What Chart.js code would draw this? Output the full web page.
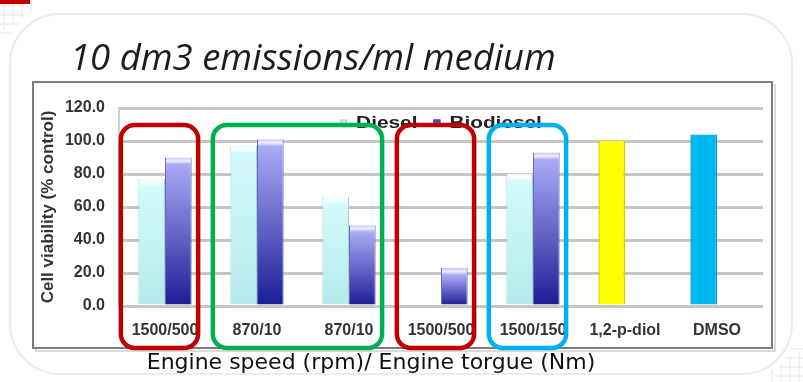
<!DOCTYPE html>
<html>
<head>
<meta charset="utf-8">
<script src="https://cdn.jsdelivr.net/npm/chart.js@4"></script>
<style>
  html, body { margin: 0; padding: 0; background: #ffffff; }
  #wrap { position: relative; width: 803px; height: 382px; overflow: hidden; }
  #chart { position: absolute; left: 0; top: 0; }
  #title {
    position: absolute; left: 70px; top: 31px; line-height: normal;
    font: italic 36.5px "Open Sans", sans-serif; color: #1c1c1c; white-space: nowrap;
  }
  #caption {
    position: absolute; left: 0; width: 742px; top: 349px; text-align: center; line-height: normal;
    font: 22px "DejaVu Sans", sans-serif; color: #111; white-space: nowrap;
  }
</style>
</head>
<body>
<div id="wrap">
  <canvas id="chart" width="803" height="382"></canvas>
  <div id="title">10 dm3 emissions/ml medium</div>
  <div id="caption">Engine speed (rpm)/ Engine torgue (Nm)</div>
</div>
<script>
// Engine operating points (speed rpm / torque Nm) plus the two solvent controls
const categories = ['1500/500', '870/10', '870/10', '1500/500', '1500/150', '1,2-p-diol', 'DMSO'];
// Cell viability, % of control
const diesel    = [77, 97, 66, null, 80, null, null];
const biodiesel = [90, 101, 49, 23, 93, null, null];
const controls  = [null, null, null, null, null, 100, 104];
const controlColors = [null, null, null, null, null, '#ffff00', '#00b8f0'];
const controlEdges  = [null, null, null, null, null, '#d0d000', '#0098d0'];
const yTicks = [0, 20, 40, 60, 80, 100, 120];

// Highlight frames drawn around groups of categories
const groups = [
  { from: 0, to: 0, color: '#c00000' },
  { from: 1, to: 2, color: '#00b050' },
  { from: 3, to: 3, color: '#c00000' },
  { from: 4, to: 4, color: '#00b0f0' }
];

// vertical gradient with a glossy cap, spanning the bar itself
function barGradient(ctx, stops) {
  const chart = ctx.chart;
  if (ctx.type !== 'data' || !chart.chartArea || ctx.raw == null) return stops.solid;
  const y = chart.scales.y;
  const top = y.getPixelForValue(ctx.raw);
  const bottom = y.getPixelForValue(0);
  const h = Math.max(bottom - top, 1);
  const capEnd = Math.min(7 / h, 0.4);
  const g = chart.ctx.createLinearGradient(0, top, 0, bottom);
  g.addColorStop(0, stops.cap);
  g.addColorStop(capEnd * 0.5, stops.shine);
  g.addColorStop(capEnd, stops.top);
  g.addColorStop(1, stops.bottom);
  return g;
}

const dieselFill = { solid: '#c4f2f2', cap: '#e6ffff', shine: '#ffffff', top: '#d4fafa', bottom: '#b4eaea' };
const bioFill    = { solid: '#5050d0', cap: '#c4c4ff', shine: '#eeeeff', top: '#aaaaf6', bottom: '#1c1c96' };

const pageDecor = {
  id: 'pageDecor',
  beforeDraw(chart) {
    const c = chart.ctx;
    c.save();
    c.fillStyle = '#ffffff';
    c.fillRect(0, 0, chart.width, chart.height);
    // faint graph-paper corners
    c.strokeStyle = '#f0e4e4';
    c.lineWidth = 1;
    for (let i = 0; i < 4; i++) {
      c.beginPath(); c.moveTo(4 + i * 9, 0); c.lineTo(4 + i * 9, 30 - i * 6); c.stroke();
      c.beginPath(); c.moveTo(0, 6 + i * 9); c.lineTo(30 - i * 6, 6 + i * 9); c.stroke();
      c.beginPath(); c.moveTo(799 - i * 9, 382); c.lineTo(799 - i * 9, 352 + i * 6); c.stroke();
      c.beginPath(); c.moveTo(803, 376 - i * 9); c.lineTo(773 + i * 6, 376 - i * 9); c.stroke();
    }
    c.fillStyle = '#c00000';
    c.fillRect(0, 0, 30, 4);
    // slide card outline
    c.strokeStyle = '#ececec';
    c.lineWidth = 2;
    c.beginPath();
    c.roundRect(10, 14, 782, 360, 50);
    c.stroke();
    // chart frame with soft shadow
    c.strokeStyle = '#dadada';
    c.lineWidth = 2;
    c.strokeRect(36, 85, 739, 266);
    c.fillStyle = '#ffffff';
    c.fillRect(33, 82, 739, 266);
    c.strokeStyle = '#7c7c7c';
    c.strokeRect(33, 82, 739, 266);
    c.restore();
  }
};

// Series key, centred along the top of the plot area
const seriesKey = {
  id: 'seriesKey',
  afterDatasetsDraw(chart) {
    const c = chart.ctx;
    const area = chart.chartArea;
    const stretch = 1.3;
    const items = [
      { text: chart.data.datasets[0].label, color: dieselFill.solid, edge: '#9ed4d4' },
      { text: chart.data.datasets[1].label, color: bioFill.solid, edge: '#3a3aa8' }
    ];
    c.save();
    c.font = 'bold 16px "Liberation Sans"';
    const box = 7, gap = 9, spacing = 16;
    const widths = items.map(it => c.measureText(it.text).width * stretch);
    const total = widths.reduce((a, w) => a + box + gap + w, 0) + spacing * (items.length - 1);
    let x = (area.left + area.right) / 2 - total / 2;
    const y = area.top + 15;
    items.forEach((it, i) => {
      c.fillStyle = it.color;
      c.fillRect(x, y - box / 2, box, box);
      c.strokeStyle = it.edge;
      c.lineWidth = 1;
      c.strokeRect(x + 0.5, y - box / 2 + 0.5, box - 1, box - 1);
      x += box + gap;
      c.save();
      c.translate(x, y);
      c.scale(stretch, 1);
      c.fillStyle = '#222';
      c.textBaseline = 'middle';
      c.fillText(it.text, 0, 1);
      c.restore();
      x += widths[i] + spacing;
    });
    c.restore();
  }
};

const groupFrames = {
  id: 'groupFrames',
  afterDraw(chart) {
    const c = chart.ctx;
    const x = chart.scales.x;
    const area = chart.chartArea;
    const step = x.getPixelForValue(1) - x.getPixelForValue(0);
    c.save();
    c.lineWidth = 4.5;
    for (const g of groups) {
      const left = x.getPixelForValue(g.from) - step * 0.48;
      const right = x.getPixelForValue(g.to) + step * 0.36;
      const top = area.top + 17;
      const bottom = area.bottom + 42;
      c.strokeStyle = g.color;
      c.beginPath();
      c.roundRect(left, top, right - left, bottom - top, 14);
      c.stroke();
    }
    c.restore();
  }
};

new Chart(document.getElementById('chart'), {
  type: 'bar',
  data: {
    labels: categories,
    datasets: [
      {
        label: 'Diesel', data: diesel, stack: 'd',
        backgroundColor: (ctx) => barGradient(ctx, dieselFill),
        borderColor: '#9ed4d4', borderWidth: { left: 1, right: 1, top: 0, bottom: 0 }
      },
      {
        label: 'Biodiesel', data: biodiesel, stack: 'b',
        backgroundColor: (ctx) => barGradient(ctx, bioFill),
        borderColor: '#6a6ac4', borderWidth: { left: 1, right: 1, top: 0, bottom: 0 }
      },
      {
        label: 'Controls', data: controls, stack: 'd',
        backgroundColor: (ctx) => controlColors[ctx.dataIndex] || '#ffff00',
        borderColor: (ctx) => controlEdges[ctx.dataIndex] || '#d0d000',
        borderWidth: { left: 1.5, right: 1.5, top: 0, bottom: 0 }
      }
    ]
  },
  options: {
    responsive: false,
    animation: false,
    layout: { padding: { left: 33, right: 40, top: 108, bottom: 36 } },
    datasets: { bar: { categoryPercentage: 0.58, barPercentage: 1.0 } },
    plugins: {
      legend: { display: false },
      tooltip: { enabled: false },
      title: { display: false }
    },
    scales: {
      x: {
        grid: { display: false },
        border: { display: false },
        afterFit: (s) => { s.height = 40; },
        ticks: {
          autoSkip: false, maxRotation: 0, padding: 7,
          color: '#333',
          font: { family: 'Liberation Sans', size: 16, weight: 'bold' }
        }
      },
      y: {
        stacked: false,
        min: 0, max: 120,
        afterFit: (s) => { s.width = 86; },
        afterBuildTicks: (s) => { s.ticks = yTicks.map(v => ({ value: v })); },
        grid: { color: '#c6c6c6', lineWidth: 3, drawTicks: false },
        border: { display: true, color: '#cfcfcf', width: 2 },
        ticks: {
          padding: 14,
          color: '#333',
          font: { family: 'Liberation Sans', size: 16, weight: 'bold' },
          callback: (v) => Number(v).toFixed(1)
        },
        title: {
          display: true,
          text: 'Cell viability (% control)',
          color: '#333',
          padding: { top: 5, bottom: 0 },
          font: { family: 'Liberation Sans', size: 17, weight: 'bold' }
        }
      }
    }
  },
  plugins: [pageDecor, seriesKey, groupFrames]
});
</script>
</body>
</html>
